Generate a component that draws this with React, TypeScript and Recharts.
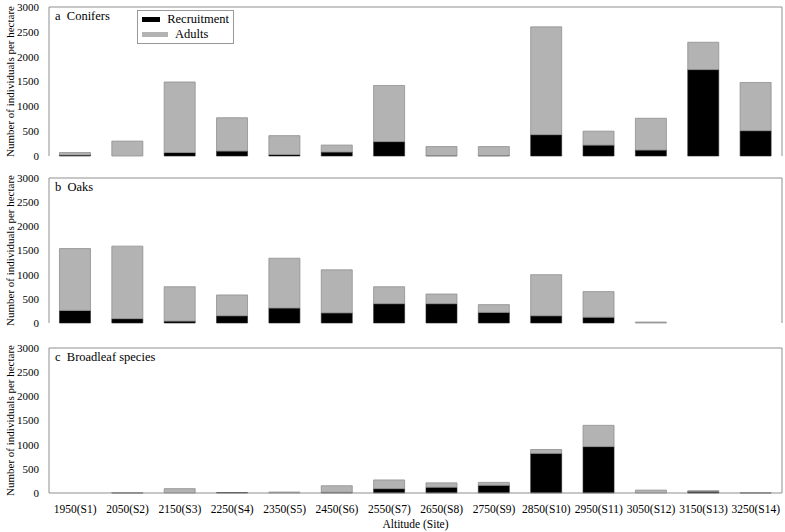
import { BarChart, Bar, XAxis, YAxis, CartesianGrid } from 'recharts';

const sites = ['1950(S1)', '2050(S2)', '2150(S3)', '2250(S4)', '2350(S5)', '2450(S6)', '2550(S7)', '2650(S8)', '2750(S9)', '2850(S10)', '2950(S11)', '3050(S12)', '3150(S13)', '3250(S14)'];
const yTicks = [0, 500, 1000, 1500, 2000, 2500, 3000];

// a Conifers
const coniferRecruit = [20, 0, 70, 100, 30, 80, 290, 10, 10, 430, 220, 120, 1740, 510];
const coniferAdults = [50, 300, 1420, 670, 380, 140, 1130, 180, 180, 2170, 280, 640, 550, 970];
// b Oaks
const oakRecruit = [260, 90, 40, 150, 310, 210, 400, 400, 220, 150, 120, 0, 0, 0];
const oakAdults = [1280, 1500, 710, 430, 1030, 890, 350, 200, 160, 850, 530, 20, 0, 0];
// c Broadleaf species
const broadRecruit = [0, 5, 0, 10, 0, 15, 90, 120, 160, 820, 960, 0, 35, 5];
const broadAdults = [0, 5, 90, 0, 20, 135, 180, 90, 60, 80, 440, 60, 10, 5];

const FONT = 'Liberation Serif, DejaVu Serif, serif';
const GRAY = '#b3b3b3';
const EDGE = '#8f8f8f';

const build = (rec: number[], adu: number[]) =>
  sites.map((s, i) => ({ site: s, recruitment: rec[i], adults: adu[i] }));

function LegendBox() {
  const row = (color: string, text: string) => (
    <div style={{ display: 'flex', alignItems: 'center', height: 15 }}>
      <span style={{ display: 'inline-block', width: 26, height: 5, background: color, marginRight: 7 }} />
      <span>{text}</span>
    </div>
  );
  return (
    <div style={{ position: 'absolute', left: 137, top: 10, width: 87, border: '1px solid #999', background: '#fff', padding: '1px 4px', fontFamily: FONT, fontSize: 12.5, color: '#000' }}>
      {row('#000', 'Recruitment')}
      {row(GRAY, 'Adults')}
    </div>
  );
}

function Panel({ top, height, mTop, mBottom, label, rec, adu, showX, legend }: {
  top: number; height: number; mTop: number; mBottom: number; label: string;
  rec: number[]; adu: number[]; showX?: boolean; legend?: boolean;
}) {
  const data = build(rec, adu);
  return (
    <div style={{ position: 'absolute', left: 0, top, width: 785, height }}>
      <BarChart width={785} height={height} data={data} barCategoryGap="20%" style={{ overflow: 'visible' }}
        margin={{ top: mTop, right: 3, bottom: mBottom, left: 0 }}>
        <CartesianGrid stroke={EDGE}
          horizontalCoordinatesGenerator={({ offset }: any) => [offset.top]}
          verticalCoordinatesGenerator={({ offset }: any) => [offset.left + offset.width]} />
        <XAxis dataKey="site" hide={!showX} axisLine={{ stroke: EDGE }} tickLine={false} tickMargin={6}
          interval={0} height={showX ? 39 : 0}
          tick={{ fontFamily: FONT, fontSize: 11.5, fill: '#000' }}
          label={showX ? { value: 'Altitude (Site)', position: 'insideBottom', offset: 4, style: { fontFamily: FONT, fontSize: 11.5, fill: '#000' } } : undefined} />
        <YAxis domain={[0, 3000]} ticks={yTicks} width={49} axisLine={{ stroke: EDGE }} tickLine={false}
          tickMargin={4} interval={0}
          tick={{ fontFamily: FONT, fontSize: 11, fill: '#000' }}
          label={{ value: 'Number of individuals per hectare', angle: -90, position: 'insideLeft', offset: 10,
            style: { textAnchor: 'middle', fontFamily: FONT, fontSize: 11, fill: '#000' } }} />
        <Bar dataKey="recruitment" name="Recruitment" stackId="s" fill="#000" stroke="#222" strokeWidth={0.6} isAnimationActive={false} />
        <Bar dataKey="adults" name="Adults" stackId="s" fill={GRAY} stroke={EDGE} strokeWidth={0.8} isAnimationActive={false} />
      </BarChart>
      <div style={{ position: 'absolute', left: 55, top: mTop + 2, fontFamily: FONT, fontSize: 12.5, color: '#000', whiteSpace: 'pre' }}>
        {label}
      </div>
      {legend && <LegendBox />}
    </div>
  );
}

export default function App() {
  return (
    <div style={{ position: 'absolute', left: 0, top: 0, width: 785, height: 532, background: '#fff' }}>
      <Panel top={0} height={170} mTop={7} mBottom={14} label="a  Conifers" rec={coniferRecruit} adu={coniferAdults} legend />
      <Panel top={170} height={170} mTop={8} mBottom={17} label="b  Oaks" rec={oakRecruit} adu={oakAdults} />
      <Panel top={340} height={192} mTop={8} mBottom={0} label="c  Broadleaf species" rec={broadRecruit} adu={broadAdults} showX />
    </div>
  );
}
